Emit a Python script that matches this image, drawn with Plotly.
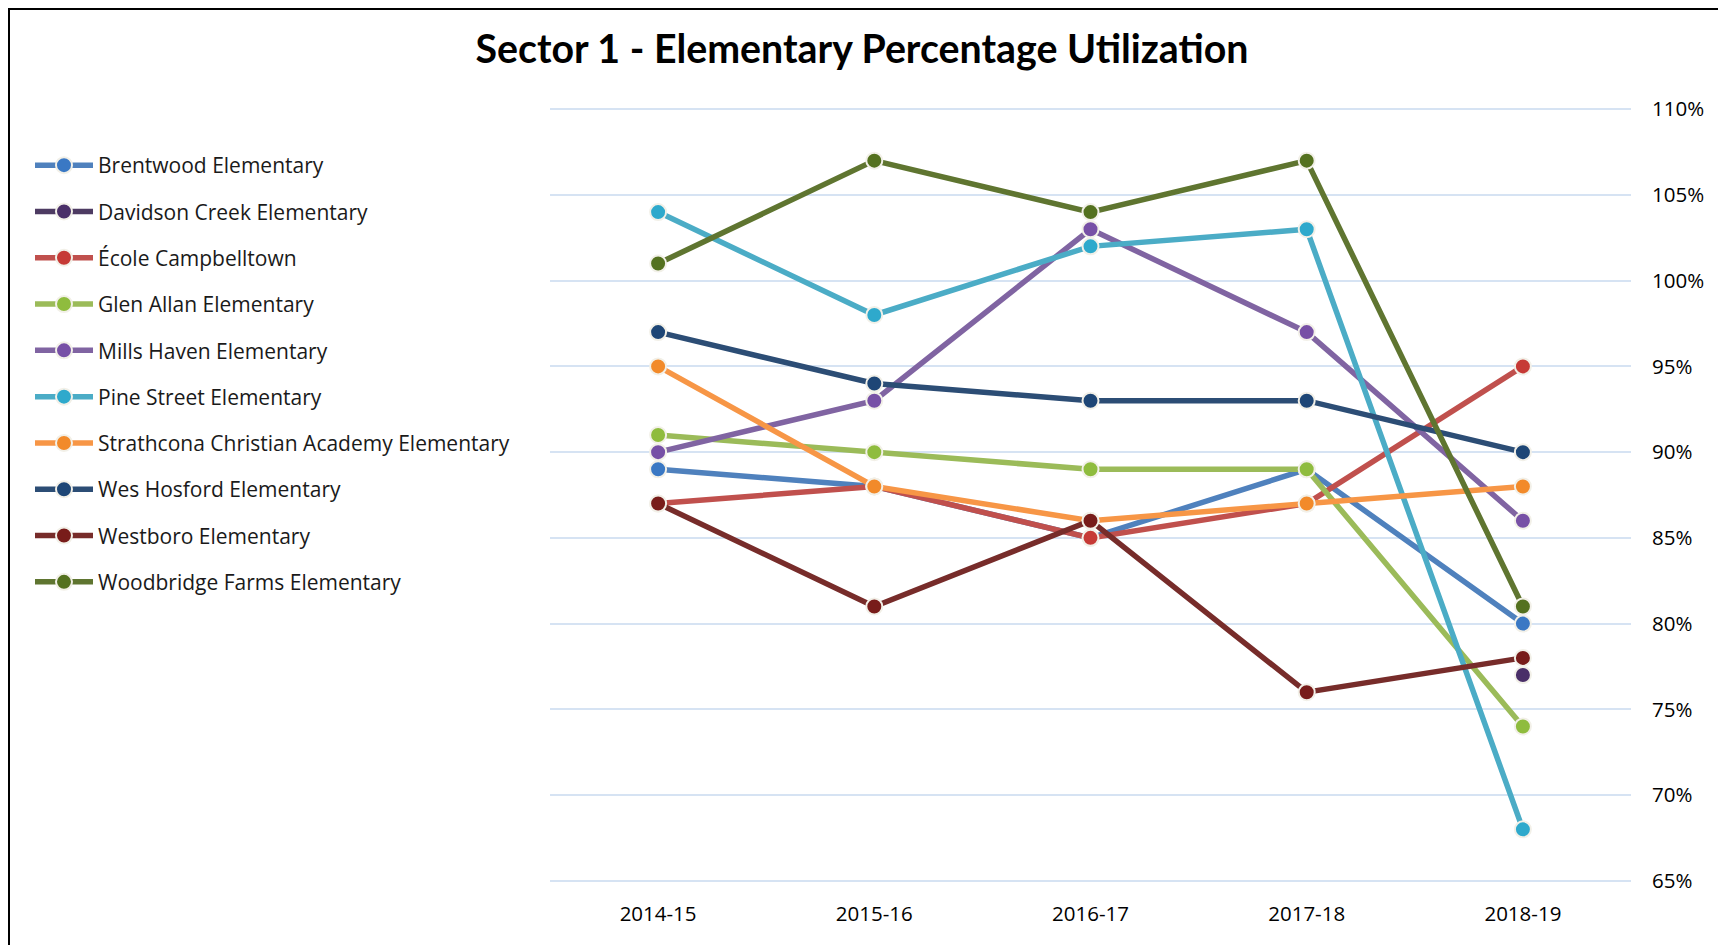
import plotly.graph_objects as go

years = ["2014-15", "2015-16", "2016-17", "2017-18", "2018-19"]
schools = [
    "Brentwood Elementary",
    "Davidson Creek Elementary",
    "École Campbelltown",
    "Glen Allan Elementary",
    "Mills Haven Elementary",
    "Pine Street Elementary",
    "Strathcona Christian Academy Elementary",
    "Wes Hosford Elementary",
    "Westboro Elementary",
    "Woodbridge Farms Elementary",
]
brentwood = [89, 88, 85, 89, 80]
davidson_creek = [None, None, None, None, 77]
ecole_campbelltown = [87, 88, 85, 87, 95]
glen_allan = [91, 90, 89, 89, 74]
mills_haven = [90, 93, 103, 97, 86]
pine_street = [104, 98, 102, 103, 68]
strathcona = [95, 88, 86, 87, 88]
wes_hosford = [97, 94, 93, 93, 90]
westboro = [87, 81, 86, 76, 78]
woodbridge = [101, 107, 104, 107, 81]
series = [brentwood, davidson_creek, ecole_campbelltown, glen_allan, mills_haven,
          pine_street, strathcona, wes_hosford, westboro, woodbridge]

y_ticks = [65, 70, 75, 80, 85, 90, 95, 100, 105, 110]
y_tick_labels = ["65%", "70%", "75%", "80%", "85%", "90%", "95%", "100%", "105%", "110%"]

line_colors = ["#4F81BD", "#4D3B62", "#C0504D", "#9BBB59", "#8064A2",
               "#4BACC6", "#F79646", "#2C4D75", "#772C2A", "#5F7530"]
marker_colors = ["#3A78C4", "#4A2F68", "#C63A36", "#8FBC3E", "#7750A6",
                 "#2EA9CC", "#F28A2A", "#1E4676", "#781C1A", "#54711F"]

OFF = 8  # browser body margin
W, H = 1726 - OFF, 945 - OFF
L, T = 550 - OFF, 108 - OFF
R = W - (1631 - OFF)
B = H - (882 - OFF)
pw, ph = W - L - R, H - T - B

fig = go.Figure()
for i, (name, vals) in enumerate(zip(schools, series)):
    fig.add_trace(go.Scatter(
        x=years, y=vals, name=name, mode="lines+markers",
        legendgroup=f"g{i}",
        line=dict(color=line_colors[i], width=5.5),
        marker=dict(size=16, color=marker_colors[i],
                    line=dict(color="#F2F0E8", width=2)),
    ))

fig.update_layout(
    width=W, height=H,
    margin=dict(l=L, r=R, t=T, b=B),
    paper_bgcolor="white", plot_bgcolor="white",
    title=dict(text="<b>Sector 1 - Elementary Percentage Utilization</b>",
               x=(862 - OFF) / W, xref="container", xanchor="center",
               y=1 - (49 - OFF) / H, yref="container", yanchor="middle",
               font=dict(family="Lato", size=39.3, color="black")),
    legend=dict(x=(30 - L - OFF) / pw, y=(ph + T - (145 - OFF)) / ph,
                xanchor="left", yanchor="top",
                font=dict(family="Open Sans", size=21, color="#1a1a1a"),
                tracegroupgap=16, itemwidth=58, bgcolor="rgba(0,0,0,0)"),
    xaxis=dict(showgrid=False, showline=False, zeroline=False, ticks="",
               tickfont=dict(family="Open Sans", size=20.5, color="black"),
               ticklabelstandoff=17, range=[-0.5, 4.5]),
    yaxis=dict(side="right", range=[64.93, 110.07],
               tickvals=y_ticks, ticktext=y_tick_labels,
               showgrid=True, gridcolor="#D6E3F3", gridwidth=2, zeroline=False,
               showline=False, ticks="",
               tickfont=dict(family="Open Sans", size=20.5, color="black"),
               ticklabelstandoff=20),
    shapes=[dict(type="rect", xref="paper", yref="paper",
                 x0=(1 - L) / pw, x1=(W - 3 - L) / pw,
                 y0=(-(H + 5) + T + ph) / ph, y1=(ph + T - 1) / ph,
                 line=dict(color="black", width=2), fillcolor="rgba(0,0,0,0)",
                 layer="above")],
)

fig.write_html("out.html")
